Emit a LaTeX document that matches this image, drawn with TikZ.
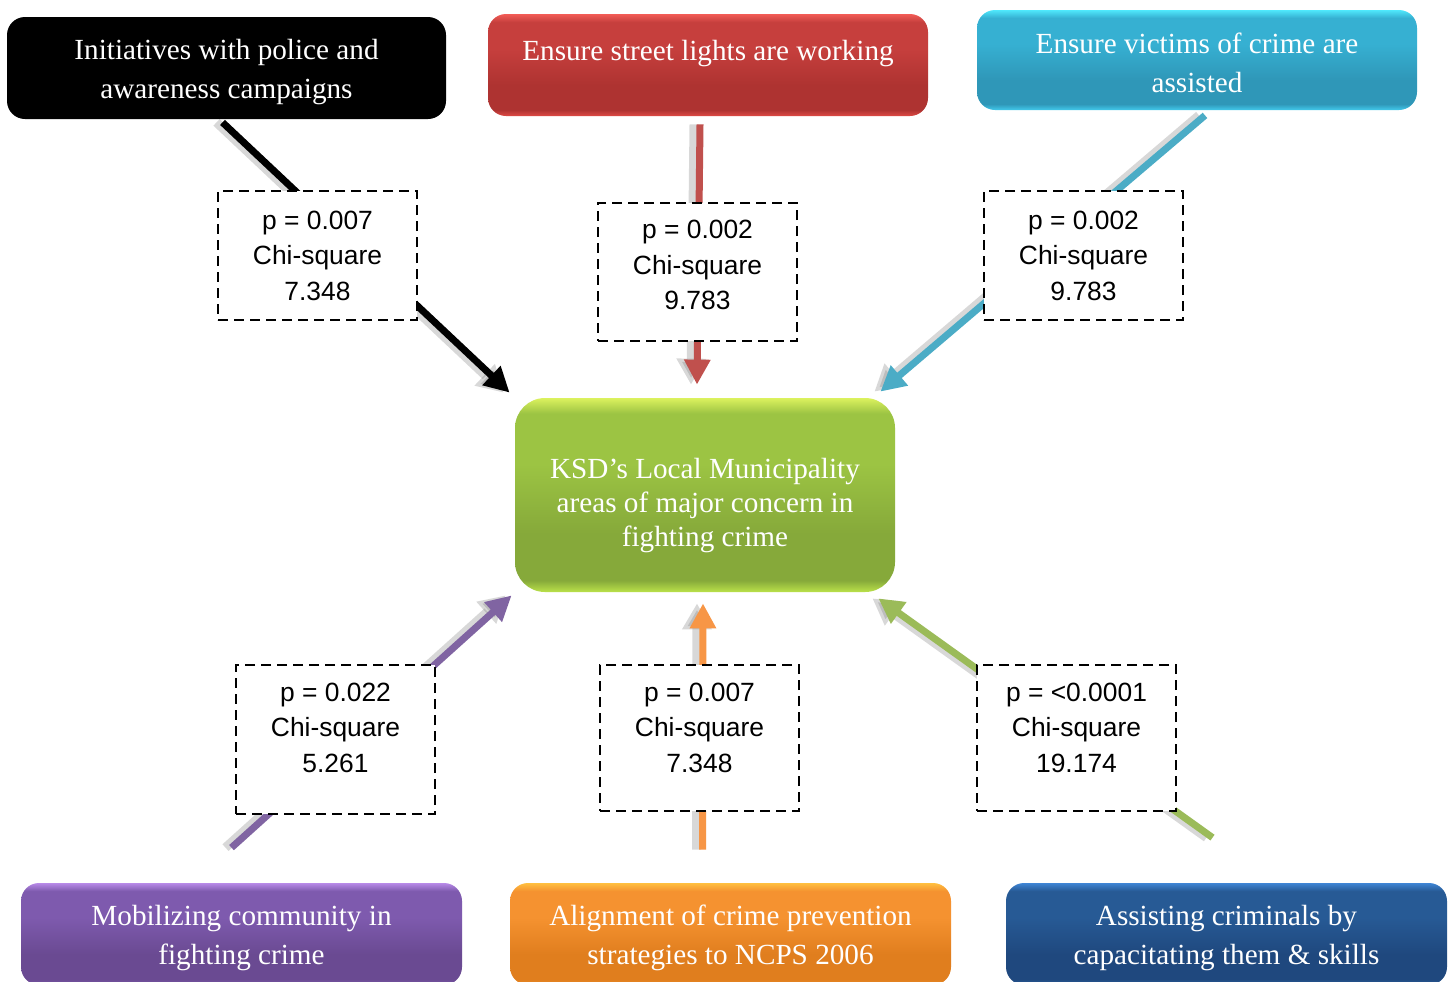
\documentclass[tikz,border=0pt]{standalone}
\usepackage{fontspec}
\setmainfont{Liberation Serif}
\newfontfamily\sansf{Liberation Sans}
\usetikzlibrary{arrows.meta,calc}
\pgfdeclarelayer{bg}
\pgfsetlayers{bg,main}
% gloss colours: T top edge, M body, D lower band, B bottom edge
\definecolor{redT}{HTML}{F25C56}\definecolor{redM}{HTML}{C63F3D}\definecolor{redD}{HTML}{AE3331}\definecolor{redB}{HTML}{DE4A44}
\definecolor{cyaT}{HTML}{4FE8FC}\definecolor{cyaM}{HTML}{36B0D2}\definecolor{cyaD}{HTML}{2F97B8}\definecolor{cyaB}{HTML}{42CAEC}
\definecolor{greT}{HTML}{DCF25E}\definecolor{greM}{HTML}{9CC443}\definecolor{greD}{HTML}{86A93A}\definecolor{greB}{HTML}{BBE24A}
\definecolor{purT}{HTML}{B88AE8}\definecolor{purM}{HTML}{7E5AAE}\definecolor{purD}{HTML}{6A4A92}\definecolor{purB}{HTML}{7A56A6}
\definecolor{oraT}{HTML}{FFC040}\definecolor{oraM}{HTML}{F59230}\definecolor{oraD}{HTML}{E07E1E}\definecolor{oraB}{HTML}{E88A25}
\definecolor{bluT}{HTML}{3F85D5}\definecolor{bluM}{HTML}{275A95}\definecolor{bluD}{HTML}{1F487E}\definecolor{bluB}{HTML}{2A5C9A}
\definecolor{arBlack}{HTML}{000000}
\definecolor{arRed}{HTML}{C0504D}
\definecolor{arCyan}{HTML}{4BACC6}
\definecolor{arPurple}{HTML}{8064A2}
\definecolor{arOrange}{HTML}{F79646}
\definecolor{arGreen}{HTML}{9BBB59}
\newcommand\glossdef[5]{\pgfdeclareverticalshading{#1}{100bp}{color(0bp)=(#5); color(25bp)=(#5); color(28bp)=(#4); color(40bp)=(#4); color(58bp)=(#3); color(71bp)=(#3); color(75bp)=(#2); color(100bp)=(#2)}}
\glossdef{redg}{redT}{redM}{redD}{redB}
\glossdef{cyag}{cyaT}{cyaM}{cyaD}{cyaB}
\glossdef{greg}{greT}{greM}{greD}{greB}
\glossdef{purg}{purT}{purM}{purD}{purB}
\glossdef{orag}{oraT}{oraM}{oraD}{oraB}
\glossdef{blug}{bluT}{bluM}{bluD}{bluB}
\newcommand\arrowpair[3]{%
  \draw[shad] #2 -- #3;
  \draw[conn, draw=#1] #2 -- #3;}
\newcommand\up[1]{\rule{0pt}{#1}}
\begin{document}
\begin{tikzpicture}[x=0.5pt,y=-0.5pt,
  box/.style={rounded corners=9pt, align=center, text=white, inner sep=0pt,
    minimum width=220pt, minimum height=51pt, font=\fontsize{14.6}{19.5}\selectfont},
  dbox/.style={draw=black, fill=white, line width=1pt, dash pattern=on 5pt off 3pt,
    align=center, inner sep=0pt, minimum width=99.5pt,
    font=\sansf\fontsize{13.2}{17.75}\selectfont},
  conn/.style={line width=3.5pt, -{Triangle[length=12.5pt,width=12.5pt]}},
  shad/.style={line width=4.5pt, draw=black!50, opacity=0.3,
    -{Triangle[length=13pt,width=14pt]}, transform canvas={xshift=-3pt}},
]
\useasboundingbox (0,0) rectangle (1450,981);
\clip (0,0) rectangle (1450,981);
\begin{pgfonlayer}{bg}
  \fill[white] (0,0) rectangle (1450,981);
\end{pgfonlayer}

% outer boxes
\node[box, fill=black, minimum width=219.5pt] (init) at (226.5,68)
  {\up{14pt}Initiatives with police and\\awareness campaigns};
\node[box, shade, shading=redg] (red) at (708,65)
  {Ensure street lights are working\rule[-15pt]{0pt}{0pt}};
\node[box, shade, shading=cyag, minimum height=50pt] (cyan) at (1197,60)
  {\up{13pt}Ensure victims of crime are\\assisted};
\node[box, shade, shading=greg, rounded corners=15pt, minimum width=190pt,
  minimum height=97pt, font=\fontsize{14.6}{17}\selectfont] (cen) at (705,495)
  {\up{21pt}KSD’s Local Municipality\\areas of major concern in\\fighting crime};
\node[box, shade, shading=purg, minimum width=220.5pt] (purple) at (241.5,934)
  {\up{14pt}Mobilizing community in\\fighting crime};
\node[box, shade, shading=orag, minimum width=220.5pt] (orange) at (730.5,934)
  {\up{14pt}Alignment of crime prevention\\strategies to NCPS 2006};
\node[box, shade, shading=blug, minimum width=220.5pt] (blue) at (1226.5,934)
  {\up{14pt}Assisting criminals by\\capacitating them \& skills};

% statistics boxes
\node[dbox, minimum height=64.5pt] (d1) at (317.5,255.5) {p = 0.007\\Chi-square\\7.348};
\node[dbox, minimum height=69pt] (d2) at (697.5,272) {p = 0.002\\Chi-square\\9.783\rule[-7pt]{0pt}{0pt}};
\node[dbox, minimum height=64.5pt] (d3) at (1083.5,255.5) {p = 0.002\\Chi-square\\9.783};
\node[dbox, minimum height=74.5pt] (d4) at (335.5,739.5) {p = 0.022\\Chi-square\\5.261\rule[-12pt]{0pt}{0pt}};
\node[dbox, minimum height=73pt] (d5) at (699.5,738) {p = 0.007\\Chi-square\\7.348\rule[-10.5pt]{0pt}{0pt}};
\node[dbox, minimum height=73pt] (d6) at (1076.5,738) {p = <0.0001\\Chi-square\\19.174\rule[-10.5pt]{0pt}{0pt}};

% connectors (behind the statistics boxes)
\begin{pgfonlayer}{bg}
  \arrowpair{arBlack}{($(init.south)+(-4,3)$)}{($(cen.north west)+(-5,-5)$)}
  \arrowpair{arRed}{($(red.south)+(-8,8)$)}{($(cen.north)+(-8,-13)$)}
  \arrowpair{arCyan}{($(cyan.south)+(8,5)$)}{($(cen.north east)+(-15,-6)$)}
  \arrowpair{arPurple}{($(purple.north)+(-10,-35)$)}{($(cen.south west)+(-3,3)$)}
  \arrowpair{arOrange}{($(orange.north)+(-28,-33)$)}{($(cen.south)+(-2,11)$)}
  \arrowpair{arGreen}{($(blue.north)+(-14,-45)$)}{($(cen.south east)+(-17,6)$)}
\end{pgfonlayer}
\end{tikzpicture}
\end{document}
